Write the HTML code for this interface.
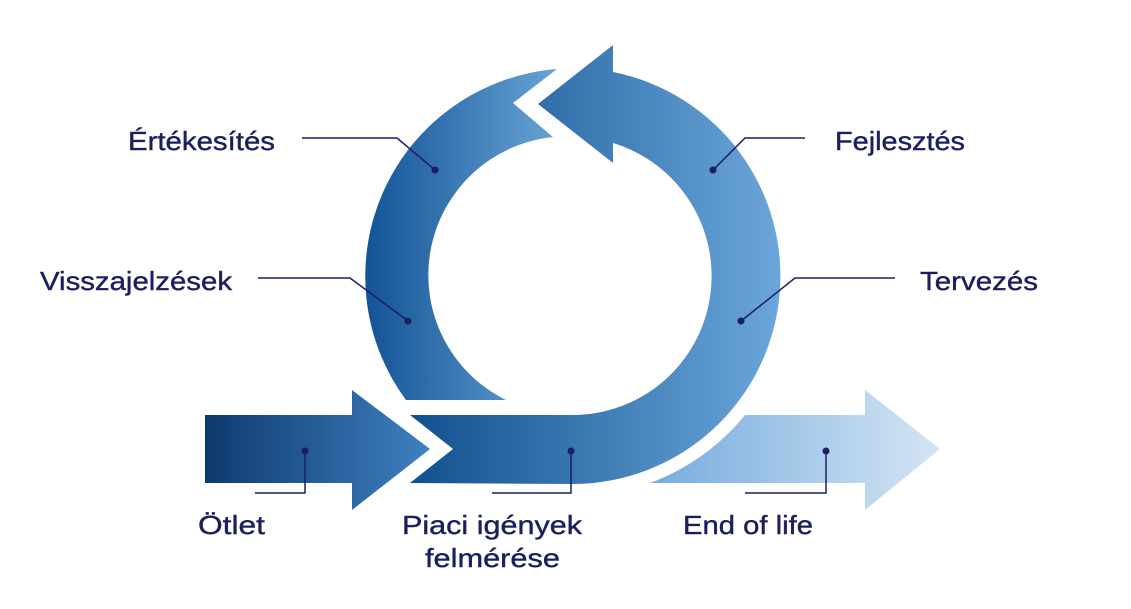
<!DOCTYPE html>
<html><head><meta charset="utf-8"><style>
html,body{margin:0;padding:0;background:#fff;width:1131px;height:609px;overflow:hidden}
svg{display:block}
text{font-family:"Liberation Sans",sans-serif;font-size:26px;fill:#1b1f5e;stroke:#1b1f5e;stroke-width:0.4}
</style></head><body>
<svg width="1131" height="609" viewBox="0 0 1131 609">
<defs>
<linearGradient id="g1" gradientUnits="userSpaceOnUse" x1="410" y1="0" x2="782" y2="0">
<stop offset="0" stop-color="#11508f"/><stop offset="1" stop-color="#6ba7da"/></linearGradient>
<linearGradient id="g2" gradientUnits="userSpaceOnUse" x1="366" y1="0" x2="560" y2="0">
<stop offset="0" stop-color="#135496"/><stop offset="1" stop-color="#6aa4d7"/></linearGradient>
<linearGradient id="g3" gradientUnits="userSpaceOnUse" x1="205" y1="0" x2="430" y2="0">
<stop offset="0" stop-color="#0d3a6e"/><stop offset="1" stop-color="#3f80c0"/></linearGradient>
<linearGradient id="g4" gradientUnits="userSpaceOnUse" x1="655" y1="0" x2="940" y2="0">
<stop offset="0" stop-color="#78acdf"/><stop offset="1" stop-color="#d4e5f4"/></linearGradient>
</defs>
<path fill="url(#g2)" d="M557,69 L513,103 L553,137 A139,139 0 0 0 506,400 L406,400 A208,208 0 0 1 557,69 Z"/>
<path fill="url(#g1)" d="M410,415 L453,449 L410,483 L573,484 A208,208 0 0 0 613,72 L613,45 L538,104 L613,163 L613,143 A139,139 0 0 1 573,415 Z"/>
<path fill="url(#g3)" d="M205,415 L352,415 L352,390 L430,449 L352,510 L352,483 L205,483 Z"/>
<path fill="url(#g4)" d="M745,415 L865,415 L865,390 L940,449 L865,510 L865,483 L650,483 A222,222 0 0 0 745,415 Z"/>
<g stroke="#1b1f5e" stroke-width="1.5" fill="none">
<path d="M302,138 L397,138 L435,170"/>
<path d="M805,138 L745,138 L713,170"/>
<path d="M258,278 L350,278 L408,321"/>
<path d="M895,278 L795,278 L741,321"/>
<path d="M305,451 L305,493 L255,493"/>
<path d="M571,451 L571,493 L492,493"/>
<path d="M826,451 L826,493 L745,493"/>
</g>
<g fill="#1b1f5e">
<circle cx="435" cy="170" r="3.5"/><circle cx="713" cy="170" r="3.5"/>
<circle cx="408" cy="321" r="3.5"/><circle cx="741" cy="321" r="3.5"/>
<circle cx="305" cy="451" r="3.5"/><circle cx="571" cy="451" r="3.5"/><circle cx="826" cy="451" r="3.5"/>
</g>
<text x="128" y="150" textLength="147" lengthAdjust="spacingAndGlyphs">Értékesítés</text>
<text x="835" y="150" textLength="130" lengthAdjust="spacingAndGlyphs">Fejlesztés</text>
<text x="40" y="290" textLength="192" lengthAdjust="spacingAndGlyphs">Visszajelzések</text>
<text x="920" y="290" textLength="118" lengthAdjust="spacingAndGlyphs">Tervezés</text>
<text x="198" y="534" textLength="67" lengthAdjust="spacingAndGlyphs">Ötlet</text>
<text x="402" y="534" textLength="180" lengthAdjust="spacingAndGlyphs">Piaci igények</text>
<text x="425" y="567" textLength="135" lengthAdjust="spacingAndGlyphs">felmérése</text>
<text x="683" y="534" textLength="130" lengthAdjust="spacingAndGlyphs">End of life</text>
</svg>
</body></html>
